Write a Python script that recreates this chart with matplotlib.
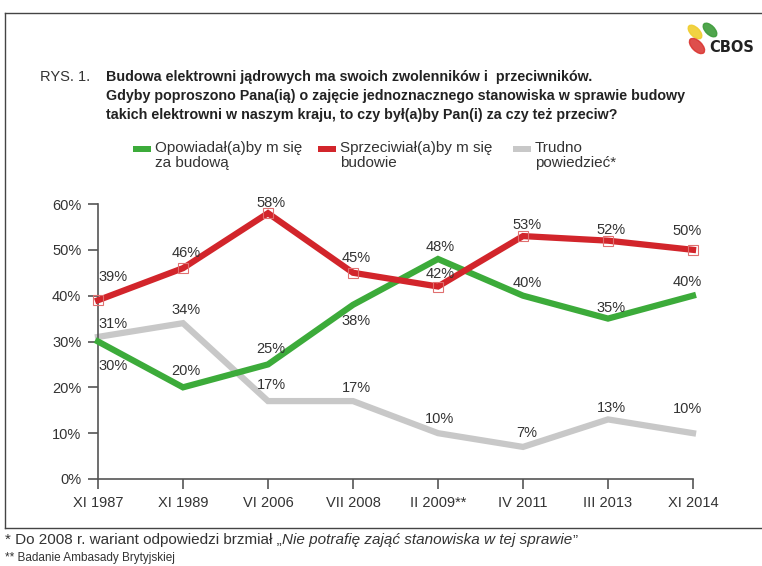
import matplotlib
matplotlib.use('Agg')
import matplotlib.pyplot as plt
from matplotlib.patches import Rectangle, Ellipse
from matplotlib.lines import Line2D

plt.rcParams['font.family'] = ['Liberation Sans', 'DejaVu Sans']

# dane z badań
okresy = ['XI 1987', 'XI 1989', 'VI 2006', 'VII 2008', 'II 2009**', 'IV 2011', 'III 2013', 'XI 2014']
za = [30, 20, 25, 38, 48, 40, 35, 40]
przeciw = [39, 46, 58, 45, 42, 53, 52, 50]
trudno = [31, 34, 17, 17, 10, 7, 13, 10]

# przesunięcia etykiet w pikselach (dodatnie = nad punktem)
dy_za = [-25, 16, 15, -16, 12, 13, 11, 14]
dy_przeciw = [23, 15, 10, 15, 12, 11, 11, 19]
dy_trudno = [13, 13, 16, 13, 14, 14, 11, 24]
dx_etykiet = [15, 3, 3, 3, 2, 4, 3, -6]

ZIELONY = '#3cab3a'
CZERWONY = '#d2252b'
SZARY = '#c8c8c8'
TEKST = '#333333'

W, H = 762, 566
fig = plt.figure(figsize=(W / 100, H / 100), dpi=100)

def px(x, y):
    return x / W, 1 - y / H

# ramka wokół rysunku (bez prawej krawędzi)
for xs, ys in [((5, 762), (13, 13)), ((5, 5), (13, 528)), ((5, 762), (528, 528))]:
    fig.lines.append(Line2D([v / W for v in xs], [1 - v / H for v in ys], transform=fig.transFigure,
                            color='#444444', linewidth=1.0))

ax = fig.add_axes([98 / W, 1 - 479 / H, (693 - 98) / W, (479 - 204) / H])
x = list(range(len(okresy)))

ax.plot(x, trudno, color=SZARY, linewidth=4.5, solid_joinstyle='miter', clip_on=False, zorder=2)
ax.plot(x, za, color=ZIELONY, linewidth=4.5, solid_joinstyle='miter', clip_on=False, zorder=3)
ax.plot(x, przeciw, color=CZERWONY, linewidth=4.5, solid_joinstyle='miter', clip_on=False, zorder=4,
        marker='s', markersize=7, markerfacecolor='none', markeredgecolor='#e07070', markeredgewidth=0.8)

def etykiety(wartosci, przesuniecia):
    for i, (v, dy) in enumerate(zip(wartosci, przesuniecia)):
        ax.annotate(f'{v}%', (i, v), xytext=(dx_etykiet[i], dy), textcoords='offset pixels',
                    ha='center', va='center', fontsize=10.5, color=TEKST, zorder=5, annotation_clip=False)

etykiety(przeciw, dy_przeciw)
etykiety(za, dy_za)
etykiety(trudno, dy_trudno)

ax.set_xlim(0, 7)
ax.set_ylim(0, 60)
ax.set_yticks(range(0, 61, 10))
ax.set_yticklabels([f'{v}%' for v in range(0, 61, 10)])
ax.set_xticks(x)
ax.set_xticklabels(okresy)
for s in ['top', 'right']:
    ax.spines[s].set_visible(False)
for s in ['left', 'bottom']:
    ax.spines[s].set_color('#555555')
    ax.spines[s].set_linewidth(1.2)
ax.tick_params(axis='both', colors='#555555', labelcolor=TEKST, labelsize=10.5, length=7, width=1.2, pad=5)

# tytuł
fig.text(*px(40, 77), 'RYS. 1.', fontsize=10.5, color=TEKST, va='center')
tytul = ['Budowa elektrowni jądrowych ma swoich zwolenników i  przeciwników.',
         'Gdyby poproszono Pana(ią) o zajęcie jednoznacznego stanowiska w sprawie budowy',
         'takich elektrowni w naszym kraju, to czy był(a)by Pan(i) za czy też przeciw?']
for i, linia in enumerate(tytul):
    fig.text(*px(106, 77 + 19 * i), linia, fontsize=10.3, fontweight='bold', color='#222222', va='center')

# legenda
legenda = [(133, ZIELONY, 'Opowiadał(a)by m się\nza budową'),
           (318, CZERWONY, 'Sprzeciwiał(a)by m się\nbudowie'),
           (513, SZARY, 'Trudno\npowiedzieć*')]
for lx, kolor, opis in legenda:
    fig.patches.append(Rectangle(px(lx, 152), 18 / W, 6 / H, transform=fig.transFigure,
                                 facecolor=kolor, edgecolor='none'))
    fig.text(*px(lx + 22, 141), opis, fontsize=11, color=TEKST, va='top', linespacing=1.1)

# logo CBOS
lax = fig.add_axes([680 / W, 1 - 65 / H, 80 / W, 50 / H])
lax.set_xlim(680, 760)
lax.set_ylim(65, 15)
lax.axis('off')
lax.add_patch(Ellipse((695, 32), 17, 9, angle=45, color='#f0cd2e', alpha=0.9))
lax.add_patch(Ellipse((710, 30), 17, 9, angle=45, color='#3d9b3a', alpha=0.9))
lax.add_patch(Ellipse((697, 46), 19, 10, angle=45, color='#d9302c', alpha=0.85))
lax.text(709, 48, 'CBOS', fontsize=10.5, fontweight='bold', color='#222222', va='center',
         family='DejaVu Sans')

# przypisy
fig.canvas.draw()
r = fig.canvas.get_renderer()
p1 = fig.text(*px(5, 540), '* Do 2008 r. wariant odpowiedzi brzmiał „', fontsize=11, color=TEKST, va='center')
bb = p1.get_window_extent(r)
p2 = fig.text(bb.x1 / W, 1 - 540 / H, 'Nie potrafię zająć stanowiska w tej sprawie', fontsize=11,
              style='italic', color=TEKST, va='center')
bb2 = p2.get_window_extent(r)
fig.text(bb2.x1 / W, 1 - 540 / H, '”', fontsize=11, color=TEKST, va='center')
fig.text(*px(5, 558), '** Badanie Ambasady Brytyjskiej', fontsize=8.5, color=TEKST, va='center')

fig.savefig('out.png', dpi=100, facecolor='white')
